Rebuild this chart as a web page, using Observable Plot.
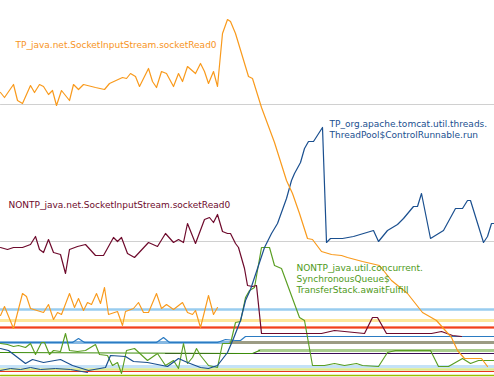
<!DOCTYPE html>
<html>
<head>
<meta charset="utf-8">
<script src="https://cdn.jsdelivr.net/npm/d3@7"></script>
<script src="https://cdn.jsdelivr.net/npm/@observablehq/plot@0.6"></script>
<style>
  html, body { margin: 0; padding: 0; background: #fff; }
  #chart svg { display: block; }
</style>
</head>
<body>
<div id="chart"></div>
<script>
// Series values: [time, value]
const tpSocketRead = [[0,285],[4,280],[13,293],[17,277],[22,274],[30,292],[34,285],[39,293],[43,291],[48,283],[52,287],[56,272],[61,287],[69,277],[73,293],[78,288],[83,293],[95,290],[104,288],[109,294],[122,300],[126,299],[130,304],[135,301],[139,291],[148,309],[152,296],[156,290],[161,306],[166,304],[173,291],[178,304],[182,296],[187,311],[195,304],[200,314],[204,306],[208,294],[213,306],[217,291],[222,344],[227,358],[230,356],[235,344],[248,301],[252,299],[261,270],[274,235],[286,197],[292,184],[299,164],[307,139],[312,138],[321,126],[331,123],[341,122],[347,120],[362,116],[379,112],[391,97],[407,84],[422,65],[436,57],[451,40],[457,27],[464,19],[481,19],[487,11]];

const tpControlRunnable = [[0,29],[8,27],[25,14],[32,18],[43,15],[60,18],[72,12],[88,7],[105,10],[110,22],[125,21],[133,16],[147,15],[167,11],[178,19],[187,15],[200,10],[208,9],[217,12],[227,25],[233,39],[240,57],[245,77],[250,88],[254,100],[264,130],[271,144],[277,154],[286,179],[291,197],[294,204],[300,215],[304,229],[308,236],[313,236],[322,250],[326,135],[330,139],[342,139],[353,141],[363,144],[373,147],[378,136],[387,147],[397,153],[403,159],[413,171],[417,171],[421,184],[430,139],[443,147],[455,169],[462,169],[467,177],[470,177],[483,135],[487,141],[491,154],[494,154]];

const nontpSocketRead = [[0,130],[7,128],[13,130],[22,130],[30,133],[35,141],[39,128],[43,125],[48,138],[53,125],[60,123],[65,104],[69,128],[77,131],[85,133],[95,122],[103,122],[113,140],[117,136],[121,140],[127,124],[134,120],[148,135],[157,131],[165,144],[173,135],[178,138],[183,135],[187,154],[195,134],[204,158],[209,160],[213,155],[217,163],[222,146],[227,144],[230,144],[235,134],[238,130],[244,109],[247,92],[252,91],[256,92],[261,44],[321,44],[334,47],[344,46],[364,44],[372,60],[377,60],[386,44],[431,44],[441,46],[452,42],[461,41]];

const nontpAwaitFulfill = [[0,34],[7,33],[13,31],[18,32],[25,30],[30,34],[35,23],[41,35],[44,35],[49,23],[53,27],[60,26],[65,44],[69,27],[77,26],[85,27],[95,33],[99,23],[107,22],[112,12],[117,15],[121,4],[126,27],[134,29],[147,17],[157,24],[165,12],[173,17],[178,9],[183,34],[187,14],[192,20],[196,29],[200,22],[208,12],[217,10],[222,34],[230,34],[235,55],[240,56],[245,80],[249,87],[254,90],[261,130],[269,130],[274,112],[281,109],[299,60],[304,57],[312,12],[324,12],[334,14],[344,12],[356,14],[362,12],[378,11],[387,25],[395,27],[430,27],[438,11],[448,11],[462,19],[470,14],[478,17],[494,17]];

const otherSocket = [[0,62],[4,71],[13,49],[22,84],[26,81],[30,69],[43,65],[48,73],[53,58],[57,65],[61,63],[69,84],[74,70],[78,79],[83,67],[87,75],[91,73],[96,84],[100,74],[104,90],[108,63],[117,66],[122,52],[125,66],[133,69],[138,75],[143,65],[148,65],[156,84],[161,69],[166,73],[173,68],[182,75],[187,65],[192,63],[195,67],[200,50],[208,82],[213,63],[217,70]];

const blueSeries = [[0,35],[72,35],[78,39],[84,35],[156,35],[163,40],[169,35],[217,35],[225,38],[235,37],[240,37],[245,41],[494,41]];
const darkGreenSeries = [[0,25],[245,24],[252,24],[259,27]];
const navySeries = [[0,7],[10,9],[20,8],[30,10],[40,8],[55,9],[70,8],[87,5]];

// Flat series: [start, end, value, colour, width]
const flatSeries = [
  [0,494,273,"#d0d0d0",1],
  [0,494,136,"#d0d0d0",1],
  [0,494,68,"#98ccef",2.5],
  [0,494,57,"#fde79b",3.2],
  [0,494,50,"#f7a08c",3.2],
  [0,494,50,"#f2401c",1.6],
  [0,230,35,"#86b8e2",3.2],
  [230,494,35,"#9c9c84",3.2],
  [259,494,27,"#a9cd8e",3.2],
  [165,494,24,"#3a0c56",1.2],
  [0,494,11,"#c4e2f7",3.2],
  [0,494,8,"#dbe98e",2.6],
  [0,494,6,"#e8341c",1.2],
  [0,494,2,"#9cbf00",1.5]
];

// Labels: [time, value, text, colour]
const labels = [
  [15,333,"TP_java.net.SocketInputStream.socketRead0","#f7941d"],
  [329,258,"TP_org.apache.tomcat.util.threads.\nThreadPool$ControlRunnable.run","#1a4f8f"],
  [8,173,"NONTP_java.net.SocketInputStream.socketRead0","#6e0a2c"],
  [296,114,"NONTP_java.util.concurrent.\nSynchronousQueue$\nTransferStack.awaitFulfill","#4e9a1a"]
];

const flatMarks = flatSeries.map(([a,b,v,c,w]) =>
  Plot.line([[a,v],[b,v]], {x: d => d[0], y: d => d[1], stroke: c, strokeWidth: w}));

const line = (data, color, w = 1.15) =>
  Plot.line(data, {x: d => d[0], y: d => d[1], stroke: color, strokeWidth: w, strokeLinejoin: "round"});

const chart = Plot.plot({
  width: 494,
  height: 377,
  margin: 0,
  x: {domain: [0, 494], axis: null},
  y: {domain: [0, 377], axis: null},
  style: {fontFamily: "DejaVu Sans", background: "#fff"},
  marks: [
    ...flatMarks,
    line(blueSeries, "#2b7bc2", 1.2),
    line(darkGreenSeries, "#3c8c0a", 1.2),
    line(navySeries, "#1a4f8f", 1),
    line(otherSocket, "#f99a1c"),
    line(nontpAwaitFulfill, "#5a9e22"),
    line(nontpSocketRead, "#6e0a2c", 1.2),
    line(tpControlRunnable, "#1a4f8f", 1.2),
    line(tpSocketRead, "#f99a1c", 1.2),
    ...labels.map(([x, y, t, c]) =>
      Plot.text([t], {x: () => x, y: () => y, text: d => d, fill: c, textAnchor: "start",
        lineAnchor: t.includes("\n") ? "top" : "middle", fontSize: 9, lineHeight: 1.2}))
  ]
});
document.getElementById("chart").appendChild(chart);
</script>
</body>
</html>
